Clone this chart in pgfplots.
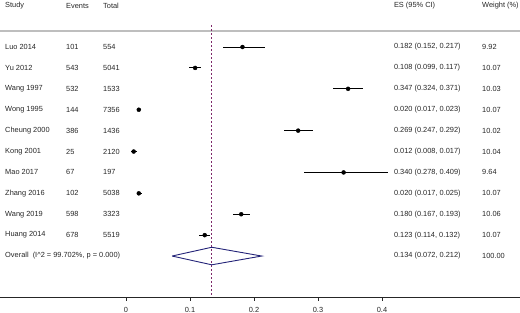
\documentclass[border=0pt]{standalone}
\usepackage{pgfplots}
\pgfplotsset{compat=1.18}
\usepackage{pgfplotstable}
\usepackage{fontspec}
\setmainfont{Liberation Sans}
\definecolor{txt}{rgb}{0.15,0.15,0.15}
\definecolor{refline}{RGB}{125,40,105}
\definecolor{diam}{RGB}{35,35,120}
\definecolor{sep}{RGB}{190,190,190}
\pgfplotstableread{
es     y    ep     em
0.182  -1   0.035  0.030
0.108  -2   0.009  0.009
0.347  -3   0.024  0.023
0.020  -4   0.003  0.003
0.269  -5   0.023  0.022
0.012  -6   0.005  0.004
0.340  -7   0.069  0.062
0.020  -8   0.005  0.003
0.180  -9   0.013  0.013
0.123  -10  0.009  0.009
}\studies
\newcommand{\fs}{\fontsize{7.4}{8.9}\selectfont}
\begin{document}
\begin{tikzpicture}
\begin{axis}[
  at={(0,0)}, anchor=south west,
  scale only axis, width=520pt, height=297pt,
  xmin=-0.196875, xmax=0.615625,
  ymin=-12.96, ymax=1.25,
  axis x line=bottom, axis y line=none,
  x axis line style={-, black!85, line width=0.7pt},
  xtick={0,0.1,0.2,0.3,0.4},
  xticklabels={0,0.1,0.2,0.3,0.4},
  tick align=outside, major tick length=4pt,
  tick style={black!85, line width=0.7pt},
  xticklabel style={font=\fs, text=txt, yshift=-3pt},
  clip=false,
]
% gray separator
\addplot[draw=sep, line width=1.1pt, mark=none] coordinates {(-0.1965,-0.234) (0.6152,-0.234)};
% overall reference line
\addplot[refline, line width=0.7pt, dash pattern=on 2pt off 2pt] coordinates {(0.134,0.05) (0.134,-12.96)};
% studies
\addplot[only marks, mark=*, mark size=2pt, black,
  error bars/.cd, x dir=both, x explicit,
  error bar style={line width=1pt, black}, error mark=none]
  table[x=es, y=y, x error plus=ep, x error minus=em] {\studies};
% overall diamond
\addplot[diam, line width=0.9pt] coordinates {(0.072,-11) (0.134,-10.58) (0.212,-11) (0.134,-11.42) (0.072,-11)};
% header
\begin{scope}[every node/.style={font=\fs, text=txt, anchor=west, inner sep=0pt}]
\node at (axis cs:-0.189,0.96) {Study};
\node at (axis cs:-0.0938,0.96) {Events};
\node at (axis cs:-0.0359,0.96) {Total};
\node at (axis cs:0.4185,0.96) {ES (95\% CI)};
\node at (axis cs:0.5563,0.96) {Weight (\%)};
% rows
\node at (axis cs:-0.189,-1) {Luo 2014};
\node at (axis cs:-0.189,-2) {Yu 2012};
\node at (axis cs:-0.189,-3) {Wang 1997};
\node at (axis cs:-0.189,-4) {Wong 1995};
\node at (axis cs:-0.189,-5) {Cheung 2000};
\node at (axis cs:-0.189,-6) {Kong 2001};
\node at (axis cs:-0.189,-7) {Mao 2017};
\node at (axis cs:-0.189,-8) {Zhang 2016};
\node at (axis cs:-0.189,-9) {Wang 2019};
\node at (axis cs:-0.189,-10) {Huang 2014};
\node at (axis cs:-0.189,-11) {Overall\ \ (I\textasciicircum 2 = 99.702\%, p = 0.000)};
\node at (axis cs:-0.0938,-1) {101};
\node at (axis cs:-0.0938,-2) {543};
\node at (axis cs:-0.0938,-3) {532};
\node at (axis cs:-0.0938,-4) {144};
\node at (axis cs:-0.0938,-5) {386};
\node at (axis cs:-0.0938,-6) {25};
\node at (axis cs:-0.0938,-7) {67};
\node at (axis cs:-0.0938,-8) {102};
\node at (axis cs:-0.0938,-9) {598};
\node at (axis cs:-0.0938,-10) {678};
\node at (axis cs:-0.0359,-1) {554};
\node at (axis cs:-0.0359,-2) {5041};
\node at (axis cs:-0.0359,-3) {1533};
\node at (axis cs:-0.0359,-4) {7356};
\node at (axis cs:-0.0359,-5) {1436};
\node at (axis cs:-0.0359,-6) {2120};
\node at (axis cs:-0.0359,-7) {197};
\node at (axis cs:-0.0359,-8) {5038};
\node at (axis cs:-0.0359,-9) {3323};
\node at (axis cs:-0.0359,-10) {5519};
\node at (axis cs:0.4185,-1) {0.182 (0.152, 0.217)};
\node at (axis cs:0.4185,-2) {0.108 (0.099, 0.117)};
\node at (axis cs:0.4185,-3) {0.347 (0.324, 0.371)};
\node at (axis cs:0.4185,-4) {0.020 (0.017, 0.023)};
\node at (axis cs:0.4185,-5) {0.269 (0.247, 0.292)};
\node at (axis cs:0.4185,-6) {0.012 (0.008, 0.017)};
\node at (axis cs:0.4185,-7) {0.340 (0.278, 0.409)};
\node at (axis cs:0.4185,-8) {0.020 (0.017, 0.025)};
\node at (axis cs:0.4185,-9) {0.180 (0.167, 0.193)};
\node at (axis cs:0.4185,-10) {0.123 (0.114, 0.132)};
\node at (axis cs:0.4185,-11) {0.134 (0.072, 0.212)};
\node at (axis cs:0.5563,-1) {9.92};
\node at (axis cs:0.5563,-2) {10.07};
\node at (axis cs:0.5563,-3) {10.03};
\node at (axis cs:0.5563,-4) {10.07};
\node at (axis cs:0.5563,-5) {10.02};
\node at (axis cs:0.5563,-6) {10.04};
\node at (axis cs:0.5563,-7) {9.64};
\node at (axis cs:0.5563,-8) {10.07};
\node at (axis cs:0.5563,-9) {10.06};
\node at (axis cs:0.5563,-10) {10.07};
\node at (axis cs:0.5563,-11) {100.00};
\end{scope}
\end{axis}
\pgfresetboundingbox
\path[use as bounding box] (0,-16pt) rectangle (520pt,297pt);
\end{tikzpicture}
\end{document}
